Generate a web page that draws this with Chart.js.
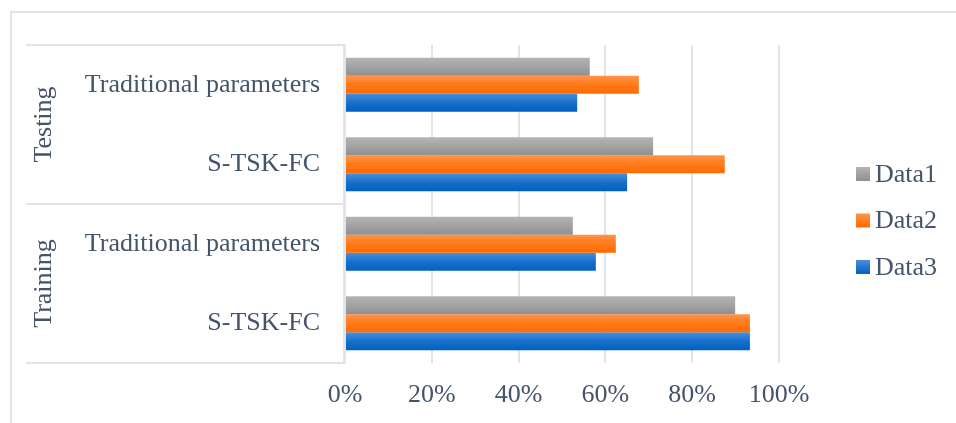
<!DOCTYPE html>
<html lang="en">
<head>
    <meta charset="UTF-8">
    <title>Testing / Training</title>
    <script src="https://cdn.jsdelivr.net/npm/chart.js"></script>
    <style>
        body { margin: 0; background: #fff; }
        canvas { display: block; }
    </style>
</head>
<body>
    <canvas id="chart" width="956" height="423"></canvas>
    <script>
        // data (percent)
        const categories = ["Traditional parameters", "S-TSK-FC", "Traditional parameters", "S-TSK-FC"];
        const groups = ["Testing", "Training"];
        const seriesNames = ["Data1", "Data2", "Data3"];
        const data1 = [56.4, 71.0, 52.5, 89.9];
        const data2 = [67.7, 87.5, 62.4, 93.3];
        const data3 = [53.5, 65.0, 57.8, 93.3];
        const xTicks = [0, 20, 40, 60, 80, 100];

        const FONT = "'Liberation Serif', 'Times New Roman', serif";
        const TEXT = "#44546A";
        const LINE = "#dfe5ec";
        const CAT_PCT = 0.68;

        // top / mid / bottom colour of each bar's shading
        const shades = [
            ["#b4b4b4", "#a3a3a3", "#8f8f8f"],
            ["#ff9448", "#ff7a1a", "#ff6a00"],
            ["#4a8ed9", "#1670cc", "#0060c0"]
        ];

        function barFill(c) {
            const s = shades[c.datasetIndex];
            const ys = c.chart.scales.y;
            if (c.type !== "data" || !ys) return s[1];
            const centre = ys.getPixelForValue(c.dataIndex);
            const catW = Math.abs(ys.getPixelForValue(1) - ys.getPixelForValue(0));
            const h = catW * CAT_PCT / 3;
            const top = centre - 1.5 * h + c.datasetIndex * h;
            if (!isFinite(top) || !isFinite(h) || h <= 0) return s[1];
            const g = c.chart.ctx.createLinearGradient(0, top, 0, top + h);
            g.addColorStop(0, s[0]);
            g.addColorStop(0.5, s[1]);
            g.addColorStop(1, s[2]);
            return g;
        }

        // frame, group labels and legend
        const decor = {
            id: "decor",
            beforeDraw(chart) {
                const ctx = chart.ctx;
                const a = chart.chartArea;
                const ys = chart.scales.y;
                const mid = (ys.getPixelForValue(1) + ys.getPixelForValue(2)) / 2;
                ctx.save();
                ctx.fillStyle = "#fff";
                ctx.fillRect(0, 0, chart.width, chart.height);
                ctx.strokeStyle = LINE;
                ctx.lineWidth = 2;
                ctx.beginPath();
                // outer frame
                ctx.moveTo(11, chart.height);
                ctx.lineTo(11, 12);
                ctx.lineTo(chart.width, 12);
                // label table
                [a.top, mid, a.bottom].forEach(y => {
                    ctx.moveTo(26, y);
                    ctx.lineTo(a.left, y);
                });
                ctx.moveTo(a.left - 1, a.top);
                ctx.lineTo(a.left - 1, a.bottom);
                ctx.stroke();
                ctx.restore();
            },
            afterDraw(chart) {
                const ctx = chart.ctx;
                const a = chart.chartArea;
                const ys = chart.scales.y;
                ctx.save();
                ctx.font = "26px " + FONT;
                ctx.fillStyle = TEXT;
                ctx.textAlign = "center";
                ctx.textBaseline = "middle";
                groups.forEach((g, i) => {
                    const yc = (ys.getPixelForValue(2 * i) + ys.getPixelForValue(2 * i + 1)) / 2;
                    ctx.save();
                    ctx.translate(44, yc);
                    ctx.rotate(-Math.PI / 2);
                    ctx.fillText(g, 0, 0);
                    ctx.restore();
                });
                // legend
                const lx = a.right + 77;
                seriesNames.forEach((name, i) => {
                    const y = 174 + i * 46.5;
                    const s = shades[i];
                    const g = ctx.createLinearGradient(0, y - 7, 0, y + 7);
                    g.addColorStop(0, s[0]);
                    g.addColorStop(1, s[2]);
                    ctx.fillStyle = g;
                    ctx.fillRect(lx, y - 7, 14, 14);
                    ctx.fillStyle = TEXT;
                    ctx.textAlign = "left";
                    ctx.fillText(name, lx + 19, y + 1);
                });
                ctx.restore();
            }
        };

        new Chart(document.getElementById("chart"), {
            type: "bar",
            data: {
                labels: categories,
                datasets: [
                    { label: seriesNames[0], data: data1, backgroundColor: barFill },
                    { label: seriesNames[1], data: data2, backgroundColor: barFill },
                    { label: seriesNames[2], data: data3, backgroundColor: barFill }
                ]
            },
            options: {
                indexAxis: "y",
                responsive: false,
                animation: false,
                layout: { padding: { top: 45, right: 177, left: 0, bottom: 0 } },
                datasets: { bar: { categoryPercentage: CAT_PCT, barPercentage: 1 } },
                plugins: { legend: { display: false }, tooltip: { enabled: false } },
                scales: {
                    x: {
                        min: 0,
                        max: 100,
                        afterBuildTicks: s => { s.ticks = xTicks.map(v => ({ value: v })); },
                        afterFit: s => { s.height = 60; },
                        grid: { color: LINE, lineWidth: 2, drawTicks: false },
                        border: { display: false },
                        ticks: {
                            padding: 17,
                            color: TEXT,
                            font: { family: FONT, size: 26 },
                            callback: v => v + "%"
                        }
                    },
                    y: {
                        afterFit: s => { s.width = 345; },
                        grid: { display: false, drawTicks: false },
                        border: { display: false },
                        ticks: {
                            padding: 25,
                            color: TEXT,
                            font: { family: FONT, size: 26 }
                        }
                    }
                }
            },
            plugins: [decor]
        });
    </script>
</body>
</html>
